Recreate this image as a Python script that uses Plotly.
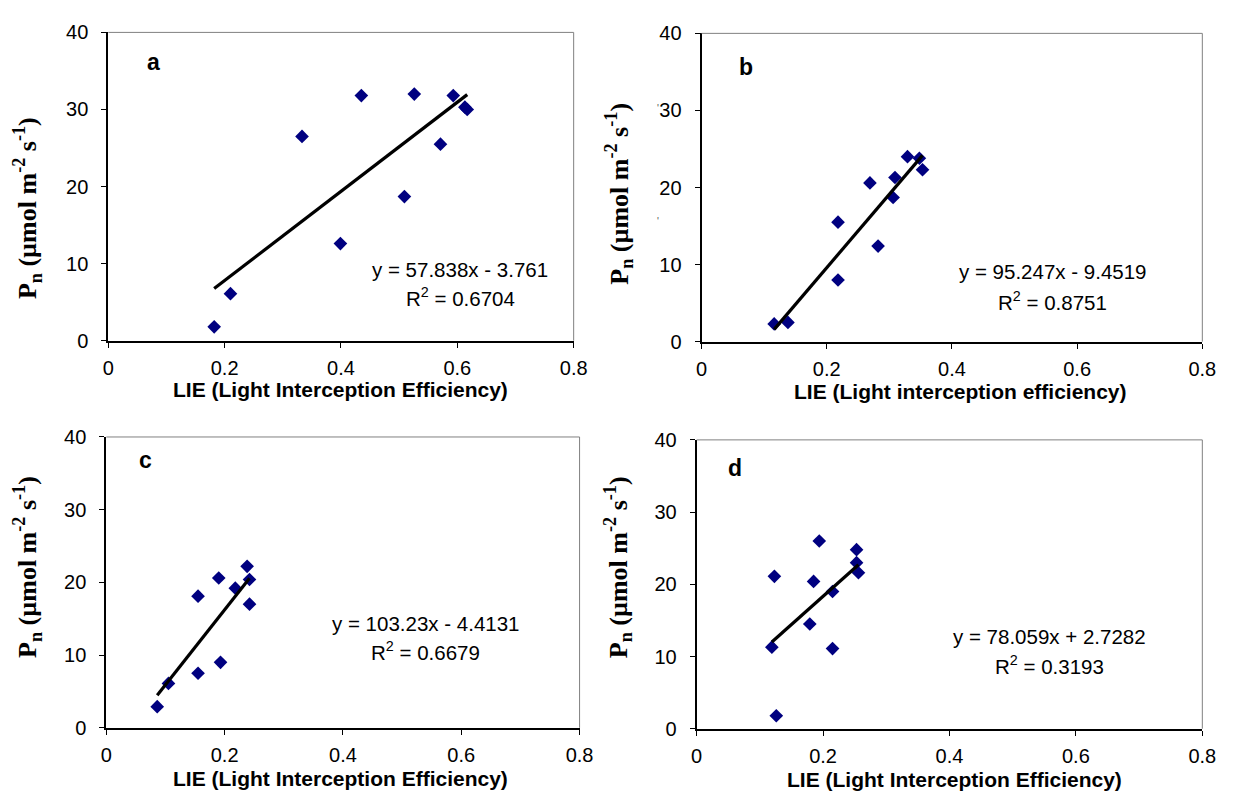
import plotly.graph_objects as go

W, H = 1236, 801

# Light interception efficiency (x) and net photosynthesis Pn (y), per panel
lie_a = [0.182, 0.210, 0.333, 0.399, 0.435, 0.509, 0.526, 0.571, 0.593, 0.613, 0.617]
pn_a = [1.8, 6.1, 26.5, 12.6, 31.8, 18.7, 32.0, 25.5, 31.8, 30.3, 30.0]

lie_b = [0.116, 0.138, 0.218, 0.218, 0.269, 0.282, 0.306, 0.309, 0.329, 0.348, 0.353]
pn_b = [2.3, 2.5, 15.5, 8.0, 20.6, 12.4, 18.7, 21.3, 24.0, 23.8, 22.3]

lie_c = [0.086, 0.105, 0.155, 0.155, 0.190, 0.193, 0.218, 0.238, 0.242, 0.242]
pn_c = [2.9, 6.1, 18.1, 7.5, 20.6, 9.0, 19.2, 22.2, 20.4, 17.0]

lie_d = [0.119, 0.123, 0.126, 0.179, 0.185, 0.194, 0.215, 0.215, 0.253, 0.253, 0.256]
pn_d = [11.3, 21.1, 1.8, 14.5, 20.4, 26.0, 19.0, 11.1, 24.8, 23.0, 21.6]

# Linear fits (slope, intercept, R²) shown in each panel
slopes = [57.838, 95.247, 103.23, 78.059]
intercepts = [-3.761, -9.4519, -4.4131, 2.7282]
r2_values = ["0.6704", "0.8751", "0.6679", "0.3193"]
eq_labels = ["y = 57.838x - 3.761", "y = 95.247x - 9.4519",
             "y = 103.23x - 4.4131", "y = 78.059x + 2.7282"]

panel_letters = ["a", "b", "c", "d"]
x_titles = ["LIE (Light Interception Efficiency)",
            "LIE (Light interception efficiency)",
            "LIE (Light Interception Efficiency)",
            "LIE (Light Interception Efficiency)"]

x_tickvals = [0, 0.2, 0.4, 0.6, 0.8]
x_ticktext = ["0", "0.2", "0.4", "0.6", "0.8"]
y_tickvals = [0, 10, 20, 30, 40]
y_ticktext = ["0", "10", "20", "30", "40"]

xs = [lie_a, lie_b, lie_c, lie_d]
ys = [pn_a, pn_b, pn_c, pn_d]

# Plot-area boxes in pixels: (left, right, top, bottom)
boxes = [(104, 577, 22, 339), (707, 1216, 23, 340),
         (102, 583, 438, 737), (702, 1216, 441, 738)]
# placement of the letter, equation and R² lines in data units
letter_pos = [(0.078, 36.2), (0.071, 35.7), (0.066, 36.8), (0.060, 36.1)]
eq_pos = [(0.605, 9.3, 5.7), (0.560, 9.1, 5.3), (0.539, 14.3, 10.5), (0.559, 12.75, 8.8)]
# axis-title centres in pixels
xtitle_pos = [(340, 389), (970, 391), (340, 789), (964, 790)]
ytitle_pos = [(22, 203), (623, 188), (22, 572), (622, 572)]

SANS = "Liberation Sans, Arial, sans-serif"
SERIF = "Liberation Serif, Times New Roman, serif"
NAVY = "#000080"

fig = go.Figure()
layout = dict(width=W, height=H, autosize=False,
              margin=dict(l=0, r=0, t=0, b=0),
              paper_bgcolor="white", plot_bgcolor="white",
              showlegend=False, font=dict(family=SANS, size=20, color="black"))
annotations = []
shapes = []

for i in range(4):
    sfx = "" if i == 0 else str(i + 1)
    xa, ya = "x" + sfx, "y" + sfx
    l, r, t, b = boxes[i]
    common = dict(showline=True, linecolor="black", linewidth=2,
                  ticks="outside", ticklen=5, tickwidth=1, tickcolor="black",
                  showgrid=False, zeroline=False, fixedrange=True,
                  tickfont=dict(family=SANS, size=20, color="black"))
    layout["xaxis" + sfx] = dict(domain=[l / W, r / W], range=[0, 0.8],
                                 tickvals=x_tickvals, ticktext=x_ticktext,
                                 anchor=ya, ticklabelstandoff=3, **common)
    layout["yaxis" + sfx] = dict(domain=[1 - b / H, 1 - t / H], range=[0, 40],
                                 tickvals=y_tickvals, ticktext=y_ticktext,
                                 anchor=xa, ticklabelstandoff=9, **common)

    fig.add_trace(go.Scatter(x=xs[i], y=ys[i], mode="markers", xaxis=xa, yaxis=ya,
                             marker=dict(symbol="diamond", size=10.5, color=NAVY,
                                         line=dict(width=0)),
                             cliponaxis=False))
    x0, x1 = min(xs[i]), max(xs[i])
    fig.add_trace(go.Scatter(x=[x0, x1],
                             y=[slopes[i] * x0 + intercepts[i], slopes[i] * x1 + intercepts[i]],
                             mode="lines", xaxis=xa, yaxis=ya,
                             line=dict(color="black", width=3.2)))

    # grey top and right frame edges
    for (sx0, sy0, sx1, sy1) in [(0, 1, 1, 1), (1, 0, 1, 1)]:
        shapes.append(dict(type="line", xref=xa + " domain", yref=ya + " domain",
                           x0=sx0, y0=sy0, x1=sx1, y1=sy1,
                           line=dict(color="#808080", width=1)))

    lx, ly = letter_pos[i]
    annotations.append(dict(x=lx, y=ly, xref=xa, yref=ya, text="<b>%s</b>" % panel_letters[i],
                            showarrow=False, xanchor="center", yanchor="middle",
                            font=dict(family=SANS, size=23, color="black")))
    ex, ey1, ey2 = eq_pos[i]
    annotations.append(dict(x=ex, y=ey1, xref=xa, yref=ya, text=eq_labels[i],
                            showarrow=False, xanchor="center", yanchor="middle",
                            font=dict(family=SANS, size=20.5, color="black")))
    annotations.append(dict(x=ex, y=ey2, xref=xa, yref=ya,
                            text="R<sup>2</sup> = %s" % r2_values[i],
                            showarrow=False, xanchor="center", yanchor="middle",
                            font=dict(family=SANS, size=20.5, color="black")))

    tx, ty = xtitle_pos[i]
    annotations.append(dict(x=tx / W, y=1 - ty / H, xref="paper", yref="paper",
                            text="<b>%s</b>" % x_titles[i], showarrow=False,
                            xanchor="center", yanchor="middle",
                            font=dict(family=SANS, size=21, color="black")))
    vx, vy = ytitle_pos[i]
    annotations.append(dict(x=vx / W, y=1 - vy / H, xref="paper", yref="paper",
                            text="<b>P<sub>n</sub> (µmol m<sup>-2</sup> s<sup>-1</sup>)</b>",
                            textangle=-90, showarrow=False,
                            xanchor="center", yanchor="middle",
                            font=dict(family=SERIF, size=26, color="black")))

# two small specks beside the y axis of panel b
for (px, py) in [(663, 100), (663, 216)]:
    annotations.append(dict(x=px / W, y=1 - py / H, xref="paper", yref="paper",
                            text="'", showarrow=False, xanchor="center", yanchor="middle",
                            font=dict(family=SANS, size=10, color="#555555")))

layout["annotations"] = annotations
layout["shapes"] = shapes
fig.update_layout(**layout)
fig.write_html("out.html")
